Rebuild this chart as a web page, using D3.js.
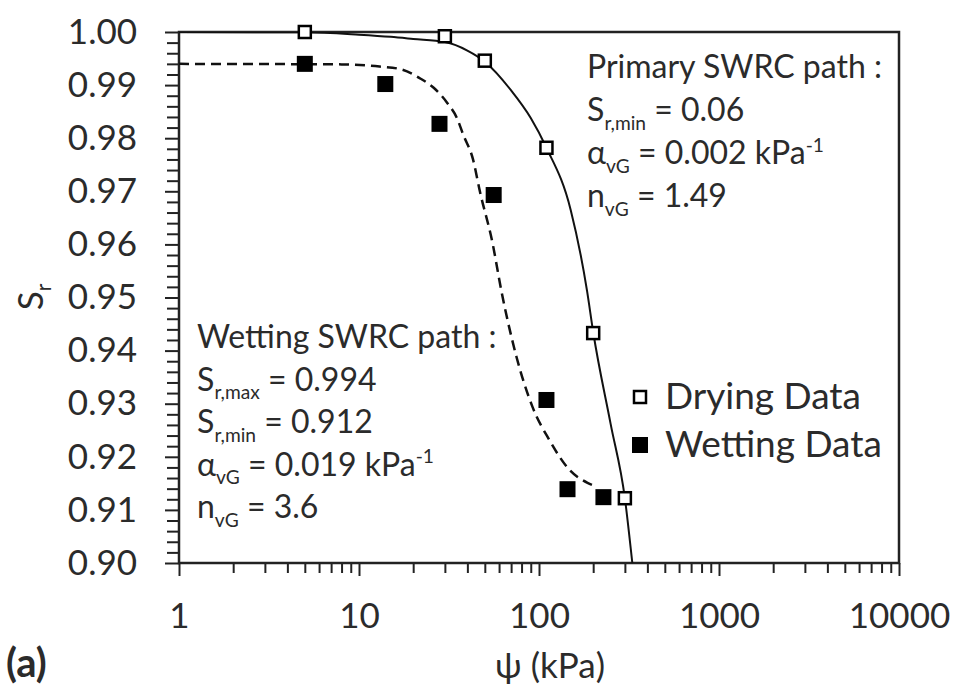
<!DOCTYPE html>
<html>
<head>
<meta charset="utf-8">
<script src="https://cdn.jsdelivr.net/npm/d3@7"></script>
<style>
  body { margin: 0; background: #fff; }
  text { font-family: Lato, "Open Sans", sans-serif; fill: #2b2b2b; }
</style>
</head>
<body>
<div id="chart"></div>
<script>
// measured points
const dryPsi = [5, 30, 50, 110, 200, 300];
const dryS = [1.000, 0.9992, 0.9946, 0.9782, 0.9433, 0.9122];
const wetPsi = [5, 14, 28, 56, 110, 144, 228];
const wetS = [0.9940, 0.9902, 0.9827, 0.9693, 0.9307, 0.9139, 0.9124];

// fitted curves
const dryCurvePsi = [1, 5, 10, 15, 20, 30, 40, 50, 70, 90, 110, 150, 185, 200, 250, 300, 330, 345];
const dryCurveS = [1.0, 0.99995, 0.9995, 0.9991, 0.9987, 0.9981, 0.9965, 0.9944, 0.9890, 0.9838, 0.9782, 0.9665, 0.9512, 0.9435, 0.9262, 0.9122, 0.9000, 0.894];
const wetCurvePsi = [1, 8, 13, 17, 22, 26, 31, 35, 38, 43, 47, 55, 62, 75, 92, 114, 148, 186, 205];
const wetCurveS = [0.994, 0.9939, 0.9935, 0.9930, 0.9912, 0.9895, 0.9866, 0.9838, 0.9806, 0.9760, 0.9699, 0.9605, 0.9510, 0.9388, 0.9294, 0.9232, 0.9175, 0.9151, 0.9145];

// ticks
const xTicks = [1, 10, 100, 1000, 10000];
const yTicks = [0.90, 0.91, 0.92, 0.93, 0.94, 0.95, 0.96, 0.97, 0.98, 0.99, 1.00];

const legendLabels = ["Drying Data", "Wetting Data"];

const width = 955;
const height = 689;
const margin = { top: 32, right: 56, bottom: 126, left: 179 };

const x = d3.scaleLog()
  .domain([1, 10000])
  .range([margin.left, width - margin.right]);

const y = d3.scaleLinear()
  .domain([0.9, 1.0])
  .range([height - margin.bottom, margin.top]);

const svg = d3.select("#chart")
  .append("svg")
  .attr("width", width)
  .attr("height", height);

svg.append("rect").attr("width", width).attr("height", height).attr("fill", "#fff");

svg.append("defs").append("clipPath")
  .attr("id", "plot")
  .append("rect")
  .attr("x", margin.left)
  .attr("y", margin.top)
  .attr("width", width - margin.left - margin.right)
  .attr("height", height - margin.top - margin.bottom);

// minor ticks
const xMinor = [];
for (let p = 1; p < 10000; p *= 10) {
  for (let k = 2; k <= 9; k++) xMinor.push(p * k);
}
const yMinor = d3.range(0, 51).map((i) => 0.9 + i * 0.002).filter((_, i) => i % 5 !== 0);

const bottomY = height - margin.bottom;

svg.append("g")
  .attr("transform", `translate(0,${bottomY})`)
  .call(d3.axisBottom(x).tickValues(xMinor).tickSize(10).tickSizeOuter(0).tickFormat(""))
  .call((g) => g.select(".domain").remove());

svg.append("g")
  .attr("transform", `translate(${margin.left},0)`)
  .call(d3.axisLeft(y).tickValues(yMinor).tickSize(12).tickSizeOuter(0).tickFormat(""))
  .call((g) => g.select(".domain").remove());

svg.append("g")
  .attr("transform", `translate(0,${bottomY})`)
  .call(d3.axisBottom(x).tickValues(xTicks).tickSize(13).tickSizeOuter(0).tickPadding(27).tickFormat(d3.format("d")))
  .call((g) => g.select(".domain").remove())
  .call((g) => g.selectAll("text").attr("font-size", 35).attr("font-family", null).attr("fill", null));

svg.append("g")
  .attr("transform", `translate(${margin.left},0)`)
  .call(d3.axisLeft(y).tickValues(yTicks).tickSize(14).tickSizeOuter(0).tickPadding(28).tickFormat(d3.format(".2f")))
  .call((g) => g.select(".domain").remove())
  .call((g) => g.selectAll("text").attr("font-size", 35).attr("font-family", null).attr("fill", null));

svg.selectAll(".tick line").attr("stroke", "#222").attr("stroke-width", 2);

// frame
svg.append("rect")
  .attr("x", margin.left)
  .attr("y", margin.top)
  .attr("width", width - margin.left - margin.right)
  .attr("height", height - margin.top - margin.bottom)
  .attr("fill", "none")
  .attr("stroke", "#222")
  .attr("stroke-width", 2.5);

// curves
const line = d3.line()
  .x((d) => x(d[0]))
  .y((d) => y(d[1]))
  .curve(d3.curveMonotoneX);

const plot = svg.append("g").attr("clip-path", "url(#plot)");

plot.append("path")
  .datum(dryCurvePsi.map((p, i) => [p, dryCurveS[i]]))
  .attr("d", line)
  .attr("fill", "none")
  .attr("stroke", "#111")
  .attr("stroke-width", 2);

plot.append("path")
  .datum(wetCurvePsi.map((p, i) => [p, wetCurveS[i]]))
  .attr("d", line)
  .attr("fill", "none")
  .attr("stroke", "#111")
  .attr("stroke-width", 2.5)
  .attr("stroke-dasharray", "10,6");

// points
const wetData = wetPsi.map((p, i) => ({ psi: p, s: wetS[i] }));
const dryData = dryPsi.map((p, i) => ({ psi: p, s: dryS[i] }));

svg.append("g")
  .selectAll("rect")
  .data(wetData)
  .join("rect")
  .attr("x", (d) => x(d.psi) - 8)
  .attr("y", (d) => y(d.s) - 8)
  .attr("width", 16)
  .attr("height", 16)
  .attr("fill", "#000");

svg.append("g")
  .selectAll("rect")
  .data(dryData)
  .join("rect")
  .attr("x", (d) => x(d.psi) - 6)
  .attr("y", (d) => y(d.s) - 6)
  .attr("width", 12)
  .attr("height", 12)
  .attr("fill", "#fff")
  .attr("stroke", "#000")
  .attr("stroke-width", 2.5);

// legend
const legend = svg.append("g").attr("transform", "translate(640,397)");
legend.selectAll("rect")
  .data(legendLabels)
  .join("rect")
  .attr("x", (d, i) => (i === 0 ? -6 : -8))
  .attr("y", (d, i) => i * 48 + (i === 0 ? -6 : -8))
  .attr("width", (d, i) => (i === 0 ? 12 : 16))
  .attr("height", (d, i) => (i === 0 ? 12 : 16))
  .attr("fill", (d, i) => (i === 0 ? "#fff" : "#000"))
  .attr("stroke", "#000")
  .attr("stroke-width", (d, i) => (i === 0 ? 2.5 : 0));
legend.selectAll("text")
  .data(legendLabels)
  .join("text")
  .attr("x", 25)
  .attr("y", (d, i) => i * 48 + 12)
  .attr("font-size", 37)
  .text((d) => d);

// annotation lines: [text, kind] pieces
function addLines(x0, y0, step, lines, size) {
  const g = svg.append("g");
  lines.forEach((parts, i) => {
    const t = g.append("text").attr("x", x0).attr("y", y0 + i * step).attr("font-size", size);
    let shift = 0;
    parts.forEach(([s, kind]) => {
      const target = kind === "sub" ? size * 0.28 : kind === "sup" ? -size * 0.38 : 0;
      t.append("tspan")
        .attr("dy", target - shift)
        .attr("font-size", kind ? size * 0.6 : size)
        .text(s);
      shift = target;
    });
  });
}

addLines(587, 78, 43, [
  [["Primary SWRC path :", ""]],
  [["S", ""], ["r,min", "sub"], [" = 0.06", ""]],
  [["α", ""], ["vG", "sub"], [" = 0.002 kPa", ""], ["-1", "sup"]],
  [["n", ""], ["vG", "sub"], [" = 1.49", ""]]
], 32);

addLines(197, 348, 42.5, [
  [["Wetting SWRC path :", ""]],
  [["S", ""], ["r,max", "sub"], [" = 0.994", ""]],
  [["S", ""], ["r,min", "sub"], [" = 0.912", ""]],
  [["α", ""], ["vG", "sub"], [" = 0.019 kPa", ""], ["-1", "sup"]],
  [["n", ""], ["vG", "sub"], [" = 3.6", ""]]
], 32);

// axis titles
svg.append("text")
  .attr("x", 550)
  .attr("y", 678)
  .attr("text-anchor", "middle")
  .attr("font-size", 35)
  .text("ψ (kPa)");

const yl = svg.append("text")
  .attr("transform", "translate(43,297) rotate(-90)")
  .attr("text-anchor", "middle")
  .attr("font-size", 35);
yl.append("tspan").text("S");
yl.append("tspan").attr("dy", 8).attr("font-size", 21).text("r");

svg.append("text")
  .attr("x", 6)
  .attr("y", 677)
  .attr("font-size", 40)
  .attr("font-weight", "bold")
  .text("(a)");
</script>
</body>
</html>
